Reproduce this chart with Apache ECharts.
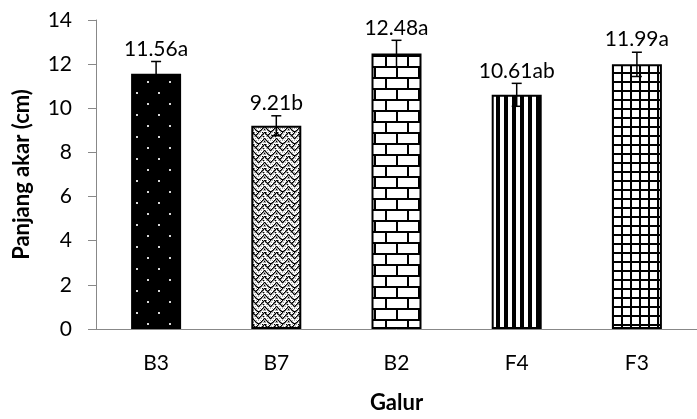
<!DOCTYPE html>
<html>
<head>
<meta charset="utf-8">
<script src="https://cdn.jsdelivr.net/npm/echarts@6/dist/echarts.min.js"></script>
<style>html,body{margin:0;padding:0;background:#fff}#c{width:697px;height:419px}</style>
</head>
<body>
<div id="c"></div>
<script>
var categories = ["B3", "B7", "B2", "F4", "F3"];
var values = [11.56, 9.21, 12.48, 10.61, 11.99];
var errors = [0.56, 0.45, 0.6, 0.52, 0.55];
var labels = ["11.56a", "9.21b", "12.48a", "10.61ab", "11.99a"];
var yTicks = [0, 2, 4, 6, 8, 10, 12, 14];

function tile(w, h, draw) {
  var c = document.createElement('canvas');
  c.width = w; c.height = h;
  var g = c.getContext('2d');
  draw(g, w, h);
  return c;
}
var patDots = tile(22, 22, function (g, w, h) {
  g.fillStyle = '#000'; g.fillRect(0, 0, w, h);
  g.fillStyle = '#d8d8d8';
  g.fillRect(4, 4, 2, 2); g.fillRect(15, 15, 2, 2);
});
var patWeave = tile(12, 12, function (g, w, h) {
  g.fillStyle = '#fff'; g.fillRect(0, 0, w, h);
  g.fillStyle = '#000';
  var pts = [[0,0],[1,1],[2,2],[3,3],[4,4],[5,5],[6,6],[7,5],[8,4],[9,3],[10,2],[11,1],
             [6,0],[5,1],[4,2],[3,3],[0,6],[1,7],[2,8],[3,9],[4,10],[5,11],[11,7],[10,8],[9,9],[8,10],[7,11],[6,11],
             [0,9],[11,4],[1,0],[10,0]];
  pts.forEach(function (p) { g.fillRect(p[0], p[1], 1.3, 1.3); });
  g.fillStyle = 'rgba(0,0,0,0.35)';
  for (var x = 0; x < w; x += 2) for (var y = 0; y < h; y += 2) g.fillRect(x + (y % 4 ? 1 : 0), y, 1, 1);
});
var patBrick = tile(22, 22, function (g, w, h) {
  g.fillStyle = '#fff'; g.fillRect(0, 0, w, h);
  g.fillStyle = '#000';
  g.fillRect(0, 0, w, 2); g.fillRect(0, 11, w, 2);
  g.fillRect(0, 0, 2, 11); g.fillRect(11, 11, 2, 11);
});
var patStripe = tile(8, 8, function (g, w, h) {
  g.fillStyle = '#fff'; g.fillRect(0, 0, w, h);
  g.fillStyle = '#000'; g.fillRect(0, 0, 4, h);
});
var patGrid = tile(9, 9, function (g, w, h) {
  g.fillStyle = '#fff'; g.fillRect(0, 0, w, h);
  g.fillStyle = '#000'; g.fillRect(0, 0, 2, h); g.fillRect(0, 0, w, 2);
});
var patterns = [patDots, patWeave, patBrick, patStripe, patGrid];

var FONT = 'Lato';
var chart = echarts.init(document.getElementById('c'), null, {renderer: 'canvas'});
chart.setOption({
  animation: false,
  backgroundColor: '#fff',
  grid: {left: 96, top: 20, bottom: 88, width: 609},
  xAxis: {
    type: 'category', data: categories,
    axisLine: {lineStyle: {color: '#888', width: 1}},
    axisTick: {length: 8, lineStyle: {color: '#888'}},
    axisLabel: {color: '#000', fontSize: 21, fontFamily: FONT, margin: 24},
    name: 'Galur', nameLocation: 'middle', nameGap: 63,
    nameTextStyle: {color: '#000', fontSize: 22, fontWeight: 'bold', fontFamily: FONT}
  },
  yAxis: {
    type: 'value', min: 0, max: 14, interval: 2,
    axisLine: {show: true, lineStyle: {color: '#888', width: 1}},
    axisTick: {show: true, length: 8, lineStyle: {color: '#888'}},
    splitLine: {show: false},
    axisLabel: {color: '#000', fontSize: 21, fontFamily: FONT, margin: 24,
      formatter: function (v) { return yTicks.indexOf(v) >= 0 ? String(v) : ''; }},
    name: 'Panjang akar (cm)', nameLocation: 'middle', nameGap: 63, nameRotate: 90,
    nameTextStyle: {color: '#000', fontSize: 22, fontWeight: 'bold', fontFamily: FONT}
  },
  series: [
    {
      type: 'bar', barWidth: 50,
      data: values.map(function (v, i) {
        return {value: v, itemStyle: {color: {image: patterns[i], repeat: 'repeat'}, borderColor: '#000', borderWidth: 2}};
      })
    },
    {
      type: 'custom', z: 5,
      data: values.map(function (v, i) { return [i, v, errors[i]]; }),
      renderItem: function (params, api) {
        var i = api.value(0), v = api.value(1), e = api.value(2);
        var top = api.coord([i, v + e]);
        var bot = api.coord([i, v - e]);
        var cap = 5;
        var st = {stroke: '#000', lineWidth: 1.5};
        return {
          type: 'group',
          children: [
            {type: 'line', shape: {x1: top[0], y1: top[1], x2: bot[0], y2: bot[1]}, style: st},
            {type: 'line', shape: {x1: top[0] - cap, y1: top[1], x2: top[0] + cap, y2: top[1]}, style: st},
            {type: 'line', shape: {x1: bot[0] - cap, y1: bot[1], x2: bot[0] + cap, y2: bot[1]}, style: st},
            {type: 'text', style: {x: top[0], y: top[1] - 2, text: labels[params.dataIndex],
              fill: '#000', fontSize: 21, fontFamily: FONT, align: 'center', verticalAlign: 'bottom'}}
          ]
        };
      }
    }
  ]
});
</script>
</body>
</html>
